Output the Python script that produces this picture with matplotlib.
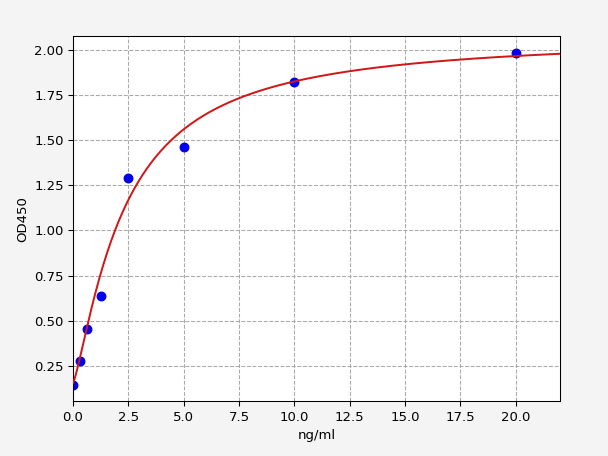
import numpy as np
import matplotlib
matplotlib.use("Agg")
import matplotlib.pyplot as plt

# concentraciones estandar y lecturas OD450
conc = [0, 0.3125, 0.625, 1.25, 2.5, 5, 10, 20]
od450 = [0.146, 0.276, 0.454, 0.639, 1.293, 1.463, 1.82, 1.985]

# parametros del ajuste 4PL (a, b, c, d)
a_fit, b_fit, c_fit, d_fit = 0.155, 1.28, 2.30, 2.08


def curva4pl(x):
    return d_fit + (a_fit - d_fit) / (1 + (x / c_fit) ** b_fit)


fig = plt.figure(figsize=(6.4, 4.8), dpi=95, facecolor="#f4f4f4")
ax = fig.add_axes([0.12, 0.12, 0.801, 0.801])

x_curva = np.linspace(0, 22, 500)
ax.plot(conc, od450, "o", color="#0000ee", markersize=6.5, zorder=2)
ax.plot(x_curva, curva4pl(x_curva), color="#d01818", linewidth=1.5, zorder=3)

ax.set_xlim(0, 22)
ax.set_xlabel("ng/ml")
ax.set_ylabel("OD450")
ax.grid(True, linestyle="--", color="#aaaaaa", linewidth=0.8)

fig.savefig("out.png", facecolor=fig.get_facecolor())
